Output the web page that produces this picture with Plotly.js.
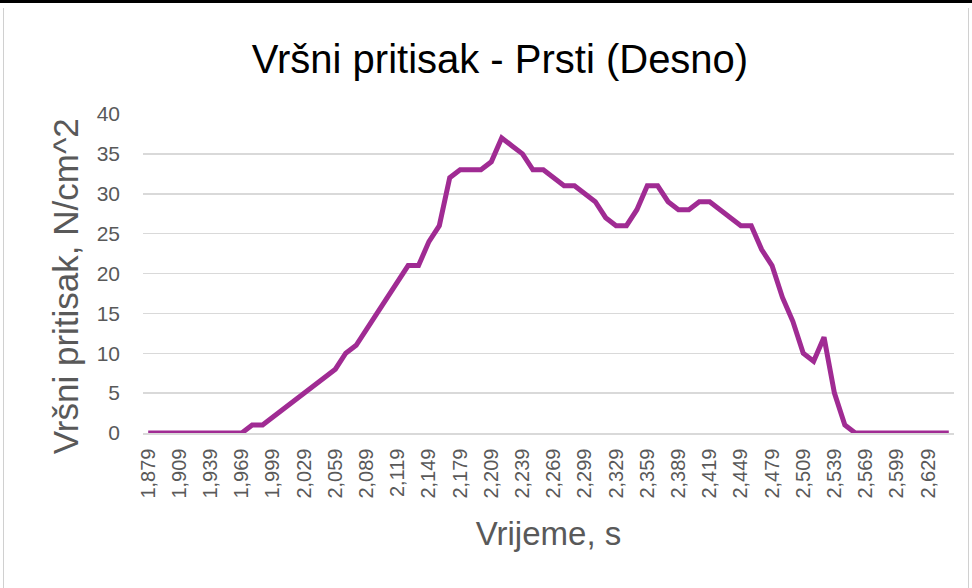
<!DOCTYPE html>
<html>
<head>
<meta charset="utf-8">
<script src="https://cdn.plot.ly/plotly-3.0.1.min.js"></script>
<style>
  html, body { margin: 0; padding: 0; background: #ffffff; }
  #wrap { position: relative; width: 972px; height: 588px; overflow: hidden; }
  #chart { position: absolute; left: 0; top: 0; width: 972px; height: 588px; }
  #topline { position: absolute; left: 0; top: 0; width: 972px; height: 3px; background: #000; }
  #leftline { position: absolute; left: 3px; top: 8px; width: 1px; height: 580px; background: #d0d0d0; }
  #rightline { position: absolute; left: 968px; top: 8px; width: 1px; height: 580px; background: #d0d0d0; }
</style>
</head>
<body>
<div id="wrap">
  <div id="chart"></div>
  <div id="topline"></div>
  <div id="leftline"></div>
  <div id="rightline"></div>
</div>
<script>
// Time categories (s), one per sample
const times = [
  "1,879","1,889","1,899","1,909","1,919","1,929","1,939","1,949","1,959","1,969",
  "1,979","1,989","1,999","2,009","2,019","2,029","2,039","2,049","2,059","2,069",
  "2,079","2,089","2,099","2,109","2,119","2,129","2,139","2,149","2,159","2,169",
  "2,179","2,189","2,199","2,209","2,219","2,229","2,239","2,249","2,259","2,269",
  "2,279","2,289","2,299","2,309","2,319","2,329","2,339","2,349","2,359","2,369",
  "2,379","2,389","2,399","2,409","2,419","2,429","2,439","2,449","2,459","2,469",
  "2,479","2,489","2,499","2,509","2,519","2,529","2,539","2,549","2,559","2,569",
  "2,579","2,589","2,599","2,609","2,619","2,629","2,639","2,649"
];

// Peak pressure, N/cm^2
const peakPressure = [
  0,0,0,0,0,0,0,0,0,0,
  1,1,2,3,4,5,6,7,8,10,
  11,13,15,17,19,21,21,24,26,32,
  33,33,33,34,37,36,35,33,33,32,
  31,31,30,29,27,26,26,28,31,31,
  29,28,28,29,29,28,27,26,26,23,
  21,17,14,10,9,12,5,1,0,0,
  0,0,0,0,0,0,0,0
];

const yTicks = [0, 5, 10, 15, 20, 25, 30, 35, 40];

const chartTitle = "Vršni pritisak - Prsti (Desno)";
const xTitle = "Vrijeme, s";
const yTitle = "Vršni pritisak, N/cm^2";

const trace = {
  type: "scatter",
  mode: "lines",
  x: times,
  y: peakPressure,
  line: { color: "#A02B93", width: 5, shape: "linear" },
  hoverinfo: "x+y",
  showlegend: false
};

const layout = {
  width: 972,
  height: 588,
  paper_bgcolor: "#ffffff",
  plot_bgcolor: "#ffffff",
  margin: { l: 143, r: 18, t: 114, b: 155 },
  font: { family: "Liberation Sans, Arial, sans-serif", color: "#595959" },
  title: {
    text: chartTitle,
    font: { family: "Liberation Sans, Arial, sans-serif", size: 40, color: "#000000" },
    x: 0.5144, xanchor: "center", xref: "container",
    y: 0.9, yanchor: "middle", yref: "container"
  },
  xaxis: {
    type: "category",
    range: [-0.5, times.length - 0.5],
    tickmode: "linear",
    tick0: 0,
    dtick: 3,
    tickangle: -90,
    tickfont: { size: 20, color: "#595959" },
    ticks: "",
    ticklabelstandoff: 6,
    showgrid: false,
    showline: true,
    linecolor: "#d9d9d9",
    linewidth: 1.5,
    zeroline: false,
    automargin: false,
    title: { text: xTitle, font: { size: 33, color: "#595959" }, standoff: 24 }
  },
  yaxis: {
    range: [0, 40],
    tickmode: "array",
    tickvals: yTicks,
    ticktext: yTicks.map(String),
    tickfont: { size: 21, color: "#595959" },
    ticks: "",
    ticklabelstandoff: 22,
    showgrid: true,
    gridcolor: "#d9d9d9",
    gridwidth: 1.5,
    zeroline: false,
    showline: false,
    automargin: false
  },
  annotations: [{
    text: yTitle,
    textangle: -90,
    xref: "paper", yref: "paper",
    x: -0.0962, y: 0.460,
    xanchor: "center", yanchor: "middle",
    showarrow: false,
    font: { family: "Liberation Sans, Arial, sans-serif", size: 35, color: "#595959" }
  }]
};

Plotly.newPlot("chart", [trace], layout, { displayModeBar: false, staticPlot: true });
</script>
</body>
</html>
